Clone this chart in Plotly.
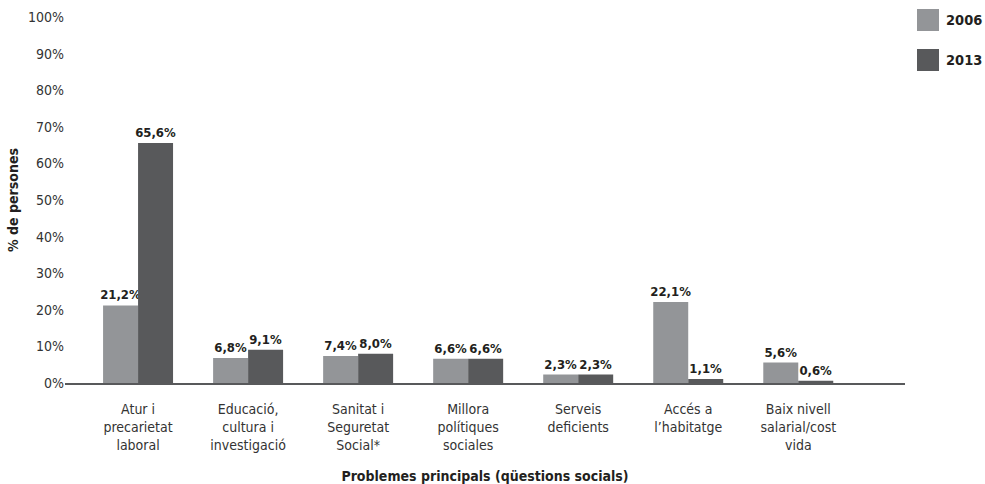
import plotly.graph_objects as go

categories = ["Atur i<br>precarietat<br>laboral", "Educació,<br>cultura i<br>investigació",
              "Sanitat i<br>Seguretat<br>Social*", "Millora<br>polítiques<br>sociales",
              "Serveis<br>deficients", "Accés a<br>l’habitatge", "Baix nivell<br>salarial/cost<br>vida"]
series_names = ["2006", "2013"]
values_2006 = [21.2, 6.8, 7.4, 6.6, 2.3, 22.1, 5.6]
values_2013 = [65.6, 9.1, 8.0, 6.6, 2.3, 1.1, 0.6]
y_ticks = [0, 10, 20, 30, 40, 50, 60, 70, 80, 90, 100]

FONT = "Liberation Sans Narrow, DejaVu Sans Condensed, Arial Narrow, sans-serif"
COLORS = ["#939598", "#58595b"]
xs = list(range(len(categories)))

fig = go.Figure()
for name, vals, col in zip(series_names, [values_2006, values_2013], COLORS):
    fig.add_trace(go.Bar(
        x=xs, y=vals, name=name, marker=dict(color=col, line=dict(width=0)),
        texttemplate="<b>%{y:.1f}%</b>", textposition="outside", cliponaxis=False,
        constraintext="none",
        textfont=dict(family=FONT, size=13, color="#231f20"),
        showlegend=False,
    ))

# Legend drawn as squares + labels in paper coordinates (top right)
leg_rows = [(0.9617, 1.0219, 0.9918), (0.8525, 0.9126, 0.8825)]
for (y0, y1, ym), name, col in zip(leg_rows, series_names, COLORS):
    fig.add_shape(type="rect", xref="paper", yref="paper", x0=1.0143, x1=1.0405,
                  y0=y0, y1=y1, fillcolor=col, line=dict(width=0))
    fig.add_annotation(xref="paper", yref="paper", x=1.0464, y=ym, xanchor="left",
                       yanchor="middle", showarrow=False, text="<b>" + name + "</b>",
                       font=dict(family=FONT, size=14.5, color="#231f20"))

fig.update_layout(
    width=985, height=484,
    margin=dict(l=65, r=80, t=17, b=101, autoexpand=False),
    paper_bgcolor="white", plot_bgcolor="white",
    separators=",.",
    barmode="group", bargap=0.364, bargroupgap=0,
    showlegend=False,
    font=dict(family=FONT, size=14, color="#333333"),
    xaxis=dict(range=[-0.664, 6.97], tickmode="array", tickvals=xs, ticktext=categories,
               showgrid=False, zeroline=False, showline=True, linecolor="#58595b", linewidth=1.5,
               ticks="", ticklabelstandoff=12, automargin=False,
               tickfont=dict(family=FONT, size=14, color="#333333"),
               title=dict(text="<b>Problemes principals (qüestions socials)</b>",
                          font=dict(family=FONT, size=14, color="#231f20"), standoff=19)),
    yaxis=dict(range=[0, 100], tickmode="array", tickvals=y_ticks,
               ticktext=[f"{v}%" for v in y_ticks],
               showgrid=False, zeroline=False, showline=False, ticks="", automargin=False,
               tickfont=dict(family=FONT, size=14, color="#333333"),
               title=dict(text="<b>% de persones</b>",
                          font=dict(family=FONT, size=14, color="#231f20"), standoff=6)),
)

fig.write_html("out.html", config={"displayModeBar": False},
               post_script="document.body.style.margin='0px';document.body.style.overflow='hidden';")
